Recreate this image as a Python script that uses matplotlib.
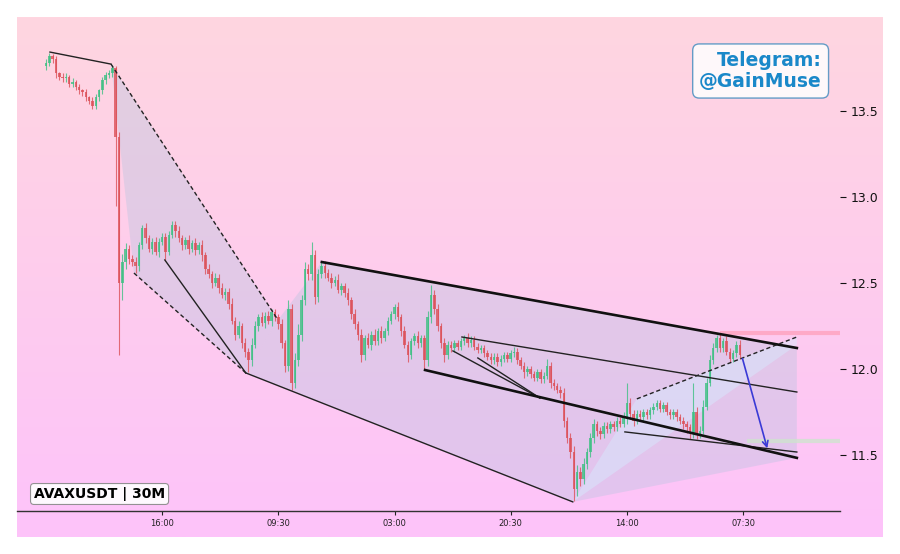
import numpy as np
import matplotlib
matplotlib.use('Agg')
import matplotlib.pyplot as plt
from matplotlib.colors import LinearSegmentedColormap
from matplotlib.patches import Polygon

# 30m candles, closes
closes = [
    13.78, 13.82, 13.80, 13.72, 13.70, 13.69, 13.70, 13.66, 13.67, 13.64,
    13.62, 13.61, 13.58, 13.56, 13.53, 13.58, 13.62, 13.68, 13.71, 13.72,
    13.75, 13.35, 12.50, 12.62, 12.70, 12.64, 12.62, 12.60, 12.72, 12.82,
    12.76, 12.70, 12.74, 12.68, 12.74, 12.77, 12.68, 12.78, 12.84, 12.80,
    12.76, 12.72, 12.75, 12.70, 12.73, 12.69, 12.72, 12.66, 12.58, 12.55,
    12.50, 12.53, 12.47, 12.43, 12.45, 12.38, 12.28, 12.20, 12.25, 12.15,
    12.10, 12.05, 12.14, 12.25, 12.30, 12.27, 12.31, 12.28, 12.33, 12.30,
    12.26, 12.15, 12.02, 12.35, 11.92, 12.05, 12.20, 12.40, 12.58, 12.55,
    12.66, 12.42, 12.55, 12.60, 12.56, 12.53, 12.50, 12.52, 12.46, 12.48,
    12.44, 12.40, 12.32, 12.26, 12.20, 12.08, 12.18, 12.14, 12.20, 12.16,
    12.22, 12.18, 12.22, 12.28, 12.32, 12.36, 12.30, 12.22, 12.14, 12.08,
    12.16, 12.19, 12.15, 12.18, 12.05, 12.30, 12.43, 12.35, 12.25, 12.15,
    12.08, 12.14, 12.12, 12.15, 12.13, 12.16, 12.18, 12.15, 12.17, 12.13,
    12.11, 12.12, 12.09, 12.07, 12.05, 12.07, 12.04, 12.06, 12.08, 12.06,
    12.09, 12.10, 12.05, 12.02, 11.98, 12.00, 11.97, 11.95, 11.98, 11.94,
    11.96, 12.02, 11.92, 11.90, 11.88, 11.86, 11.70, 11.60, 11.52, 11.30,
    11.40, 11.36, 11.45, 11.52, 11.60, 11.68, 11.64, 11.62, 11.67, 11.65,
    11.68, 11.66, 11.70, 11.68, 11.72, 11.80, 11.74, 11.70, 11.74, 11.72,
    11.75, 11.73, 11.76, 11.78, 11.80, 11.77, 11.79, 11.75, 11.73, 11.75,
    11.72, 11.70, 11.68, 11.66, 11.63, 11.75, 11.62, 11.64, 11.78, 11.92,
    12.05, 12.12, 12.18, 12.12, 12.16, 12.10, 12.06, 12.09, 12.14, 12.08,
]
first_open = 13.76

# wick lengths in cents above / below the body
wick_up_c = [
    2, 2, 1, 2, 1, 2, 2, 1, 2, 1,  2, 1, 2, 1, 2, 2, 1, 2, 2, 2,
    2, 1, 3, 5, 3, 2, 2, 3, 2, 2,  3, 2, 2, 3, 2, 2, 2, 2, 2, 2,
    3, 2, 2, 3, 2, 3, 2, 3, 2, 3,  2, 3, 2, 3, 2, 2, 3, 2, 3, 2,
    3, 2, 4, 3, 2, 3, 2, 3, 2, 2,  2, 3, 2, 5, 3, 4, 6, 3, 4, 3,
    8, 3, 3, 2, 3, 2, 3, 2, 3, 2,  2, 3, 2, 3, 2, 3, 2, 3, 2, 3,
    2, 3, 2, 2, 2, 2, 3, 2, 3, 2,  2, 2, 3, 2, 2, 4, 6, 3, 3, 2,
    3, 2, 2, 2, 2, 2, 2, 3, 2, 2,  2, 2, 2, 2, 2, 2, 2, 2, 2, 2,
    2, 3, 2, 2, 2, 2, 2, 2, 2, 2,  2, 4, 2, 2, 2, 2, 3, 2, 3, 3,
    4, 3, 3, 2, 3, 3, 2, 2, 2, 2,  2, 2, 2, 2, 3, 12, 3, 2, 2, 2,
    2, 2, 2, 2, 2, 2, 2, 2, 2, 2,  2, 2, 2, 2, 2, 17, 3, 3, 4, 3,
    3, 3, 2, 3, 2, 3, 2, 2, 2, 3,
]
wick_dn_c = [
    2, 2, 2, 3, 2, 2, 2, 2, 2, 2,  2, 2, 2, 2, 2, 2, 2, 2, 2, 2,
    2, 40, 42, 10, 4, 3, 2, 4, 3, 2,  3, 2, 3, 2, 3, 2, 5, 2, 2, 3,
    2, 3, 2, 3, 2, 3, 2, 3, 3, 2,  3, 2, 3, 2, 3, 3, 2, 3, 2, 3,
    3, 7, 3, 2, 3, 2, 3, 2, 3, 2,  3, 3, 4, 3, 4, 3, 3, 4, 3, 3,
    3, 4, 3, 2, 3, 2, 3, 2, 2, 3,  2, 3, 3, 3, 3, 4, 3, 2, 3, 2,
    2, 3, 2, 2, 2, 3, 2, 3, 2, 4,  2, 2, 3, 2, 5, 3, 3, 3, 3, 3,
    4, 2, 2, 2, 2, 2, 2, 2, 2, 2,  2, 2, 2, 2, 2, 2, 2, 2, 2, 2,
    2, 2, 2, 2, 3, 2, 2, 2, 2, 2,  2, 2, 3, 2, 2, 3, 4, 3, 4, 7,
    4, 4, 3, 3, 3, 3, 3, 3, 2, 2,  2, 2, 2, 2, 2, 4, 3, 3, 2, 2,
    2, 2, 2, 2, 2, 2, 2, 2, 2, 2,  2, 2, 3, 3, 4, 3, 3, 2, 2, 2,
    2, 2, 2, 2, 2, 2, 2, 2, 2, 2,
]

tick_pos = [35, 70, 105, 140, 175, 210]
tick_labels = ['16:00', '09:30', '03:00', '20:30', '14:00', '07:30']
y_ticks = [11.5, 12.0, 12.5, 13.0, 13.5]

# drawn trend lines: ((x0, y0), (x1, y1)) in candle index / price
solid_lines = [((1.2, 13.843), (19.6, 13.773)),
               ((35.8, 12.634), (60.2, 11.977)),
               ((60.2, 11.977), (158.7, 11.227)),
               ((125.3, 12.186), (226.2, 11.866)),
               ((122.6, 12.105), (148.8, 11.831)),
               ((130.1, 12.064), (148.8, 11.831)),
               ((174.4, 11.634), (226.2, 11.517))]
thick_lines = [((83.1, 12.622), (226.2, 12.122)),
               ((114.2, 11.994), (226.2, 11.483))]
dashed_lines = [((19.6, 13.773), (69.9, 12.285)),
                ((26.5, 12.558), (60.2, 11.977)),
                ((178.0, 11.826), (226.2, 12.186))]
arrow_from = (209.6, 12.076)
arrow_to = (217.5, 11.523)

zone_a = [(19.6, 13.773), (69.9, 12.285), (60.2, 11.977), (26.5, 12.558)]
zone_b = [(60.2, 11.977), (69.9, 12.285), (83.1, 12.622), (226.2, 12.122),
          (226.2, 11.483), (158.7, 11.227)]
zone_c = [(158.7, 11.227), (178.0, 11.826), (226.2, 12.186), (226.2, 12.14)]

resistance_level = 12.209
resistance_start = 203.0
target_level = 11.581
target_start = 211.1

fig = plt.figure(figsize=(9, 5.54), dpi=100, facecolor='white')

# gradient background
bg = fig.add_axes([17/900, 17/554, 866/900, 520/554])
cmap = LinearSegmentedColormap.from_list('pinkgrad', ['#ffd6e0', '#fdc3fa'])
bg.imshow(np.linspace(0, 1, 256).reshape(-1, 1), aspect='auto', cmap=cmap,
          extent=[0, 1, 0, 1])
bg.axis('off')

ax = fig.add_axes([17/900, 43/554, 823/900, 494/554])
ax.patch.set_alpha(0)

n = len(closes)
x = np.arange(n)
opens = np.array([first_open] + closes[:-1])
closes_a = np.array(closes)
highs = np.maximum(opens, closes_a) + np.array(wick_up_c) / 100.0
lows = np.minimum(opens, closes_a) - np.array(wick_dn_c) / 100.0
up = closes_a >= opens
colors = np.where(up, '#3ec083', '#dc5058')

# zones
for pts, col, a in [(zone_a, '#b0c4de', 0.35), (zone_b, '#b0c4de', 0.35),
                    (zone_c, '#d6ecff', 0.45)]:
    ax.add_patch(Polygon(pts, closed=True, facecolor=col, alpha=a,
                         edgecolor='none', zorder=1))

ax.vlines(x, lows, highs, colors=colors, linewidth=0.8, alpha=0.8, zorder=2)
body_bottom = np.minimum(opens, closes_a)
body_h = np.maximum(np.abs(closes_a - opens), 0.008)
ax.bar(x, body_h, bottom=body_bottom, width=0.75, color=colors, alpha=0.8,
       linewidth=0, zorder=3)

for (p0, p1) in solid_lines:
    ax.plot([p0[0], p1[0]], [p0[1], p1[1]], color='#222222', lw=1.0, zorder=4)
for (p0, p1) in thick_lines:
    ax.plot([p0[0], p1[0]], [p0[1], p1[1]], color='#111111', lw=1.9, zorder=4)
for (p0, p1) in dashed_lines:
    ax.plot([p0[0], p1[0]], [p0[1], p1[1]], color='#222222', lw=1.0,
            linestyle=(0, (3, 2)), zorder=4)

ax.annotate('', xy=arrow_to, xytext=arrow_from, zorder=5,
            arrowprops=dict(arrowstyle='->', color='#3a3ad6', lw=1.2))

xmax = 239.2
ax.hlines(resistance_level, resistance_start, xmax, colors='#ff8aa0',
          linewidth=3, alpha=0.5, zorder=1)
ax.hlines(target_level, target_start, xmax, colors='#cfe3cf',
          linewidth=3, alpha=0.8, zorder=1)

ax.set_xlim(-8.73, xmax)
ax.set_ylim(11.174, 14.047)

for s in ['top', 'left', 'right']:
    ax.spines[s].set_visible(False)
ax.spines['bottom'].set_color('#333333')
ax.spines['bottom'].set_linewidth(1.0)

ax.yaxis.tick_right()
ax.set_yticks(y_ticks)
ax.set_yticklabels([f'{v:.1f}' for v in y_ticks])
ax.tick_params(axis='y', labelsize=9, length=4, width=0.8, colors='#111111')
ax.set_xticks(tick_pos)
ax.set_xticklabels(tick_labels)
ax.tick_params(axis='x', labelsize=6, length=3, width=0.8, colors='#222222', pad=3)

fig.text(822/900, 1 - 71/554, 'Telegram:\n@GainMuse', ha='right', va='center',
         multialignment='right', fontsize=13.5, fontweight='bold', color='#1a88c9',
         bbox=dict(boxstyle='round,pad=0.35', facecolor='white', alpha=0.85,
                   edgecolor='#4a8fc0', linewidth=1.0))
fig.text(34/900, 1 - 494/554, 'AVAXUSDT | 30M', ha='left', va='center',
         fontsize=10, fontweight='bold', color='black',
         bbox=dict(boxstyle='round,pad=0.25', facecolor='white', alpha=0.9,
                   edgecolor='#888888', linewidth=0.8))

fig.savefig('out.png', dpi=100, facecolor='white')
